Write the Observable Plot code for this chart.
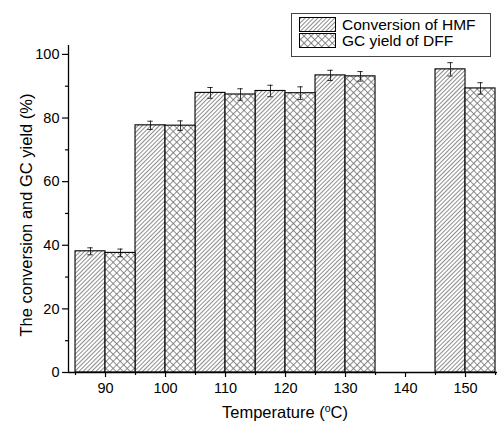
<!DOCTYPE html>
<html><head><meta charset="utf-8">
<script src="https://cdn.jsdelivr.net/npm/d3@7"></script>
<script src="https://cdn.jsdelivr.net/npm/@observablehq/plot@0.6"></script>
<style>html,body{margin:0;padding:0;background:#fff} svg{display:block}</style>
</head><body><div id="chart"></div>
<script>
const temperatures = [90, 100, 110, 120, 130, 150];
const conversionHMF = [38.1, 77.7, 87.9, 88.5, 93.4, 95.3];
const conversionErr = [1.1, 1.3, 1.7, 1.8, 1.6, 2.1];
const gcYieldDFF = [37.6, 77.6, 87.4, 87.8, 93.1, 89.3];
const gcYieldErr = [1.2, 1.5, 1.8, 2.0, 1.5, 1.8];
const seriesNames = ["Conversion of HMF", "GC yield of DFF"];
const xTicks = [90, 100, 110, 120, 130, 140, 150];
const xMinorTicks = [85, 95, 105, 115, 125, 135, 145, 155];
const yTicks = [0, 20, 40, 60, 80, 100];
const yMinorTicks = [10, 30, 50, 70, 90];
const xTitle = ["Temperature (", "o", "C)"];
const yTitle = "The conversion and GC yield (%)";

const halfBand = 5;
const bars = temperatures.flatMap((t, i) => [
  {series: seriesNames[0], x1: t - halfBand, x2: t, value: conversionHMF[i], err: conversionErr[i]},
  {series: seriesNames[1], x1: t, x2: t + halfBand, value: gcYieldDFF[i], err: gcYieldErr[i]}
]);
const mid = d => (d.x1 + d.x2) / 2;
const capHalf = 0.45;
const fills = {[seriesNames[0]]: "url(#hatchConv)", [seriesNames[1]]: "url(#hatchGC)"};

const svg = Plot.plot({
  width: 498,
  height: 423,
  marginLeft: 68,
  marginRight: 1,
  marginTop: 45,
  marginBottom: 51,
  style: {fontFamily: "'Liberation Sans', Arial, sans-serif", fontSize: "14.5px", color: "black", background: "white"},
  x: {domain: [83.83, 155.33]},
  y: {domain: [0, 102.8]},
  marks: [
    ...seriesNames.map(s => Plot.rectY(bars.filter(d => d.series === s), {
      x1: "x1", x2: "x2", y: "value", fill: fills[s], stroke: "black", strokeWidth: 1.1, inset: 0
    })),
    Plot.ruleX(bars, {x: mid, y1: d => d.value - d.err, y2: d => d.value + d.err, stroke: "black", strokeWidth: 0.8}),
    Plot.ruleY(bars, {y: d => d.value + d.err, x1: d => mid(d) - capHalf, x2: d => mid(d) + capHalf, stroke: "black", strokeWidth: 0.8}),
    Plot.ruleY(bars, {y: d => d.value - d.err, x1: d => mid(d) - capHalf, x2: d => mid(d) + capHalf, stroke: "black", strokeWidth: 0.8}),
    Plot.axisX(xTicks, {tickSize: 5, tickPadding: 5, label: null, strokeWidth: 1.2}),
    Plot.axisX(xMinorTicks, {tickSize: 3, text: null, label: null, strokeWidth: 1.2}),
    Plot.axisY(yTicks, {tickSize: 6, tickPadding: 3, label: null, strokeWidth: 1.2}),
    Plot.axisY(yMinorTicks, {tickSize: 3, text: null, label: null, strokeWidth: 1.2}),
    Plot.ruleY([0], {stroke: "black", strokeWidth: 1.3}),
    Plot.ruleX([83.83], {stroke: "black", strokeWidth: 1.3}),
    Plot.text([yTitle], {frameAnchor: "left", dx: -42, dy: 6, rotate: -90, textAnchor: "middle", fontSize: 16.5, fill: "black"})
  ]
});

const root = d3.select(svg);
const defs = root.insert("defs", ":first-child");
const p1 = defs.append("pattern").attr("id", "hatchConv").attr("patternUnits", "userSpaceOnUse")
  .attr("width", 3).attr("height", 3).attr("patternTransform", "rotate(45)");
p1.append("rect").attr("width", 3).attr("height", 3).attr("fill", "white");
p1.append("line").attr("x1", 0.5).attr("y1", 0).attr("x2", 0.5).attr("y2", 3).attr("stroke", "#707070").attr("stroke-width", 0.8);
const p2 = defs.append("pattern").attr("id", "hatchGC").attr("patternUnits", "userSpaceOnUse")
  .attr("width", 5).attr("height", 5).attr("patternTransform", "rotate(45)");
p2.append("rect").attr("width", 5).attr("height", 5).attr("fill", "white");
p2.append("line").attr("x1", 0.5).attr("y1", 0).attr("x2", 0.5).attr("y2", 5).attr("stroke", "#707070").attr("stroke-width", 0.8);
p2.append("line").attr("x1", 0).attr("y1", 0.5).attr("x2", 5).attr("y2", 0.5).attr("stroke", "#707070").attr("stroke-width", 0.8);

// x-axis title with superscript
const xt = root.append("text").attr("x", 285).attr("y", 418).attr("text-anchor", "middle")
  .attr("font-size", 16.5).attr("fill", "black");
xt.append("tspan").text(xTitle[0]);
xt.append("tspan").attr("font-size", 10.5).attr("dy", -6.5).text(xTitle[1]);
xt.append("tspan").attr("dy", 6.5).text(xTitle[2]);

// legend
const lg = root.append("g");
lg.append("rect").attr("x", 291.5).attr("y", 13.5).attr("width", 199).attr("height", 43)
  .attr("fill", "white").attr("stroke", "#444").attr("stroke-width", 1);
seriesNames.forEach((s, i) => {
  const y0 = 17 + i * 16;
  lg.append("rect").attr("x", 299.5).attr("y", y0 + 0.5).attr("width", 36).attr("height", 14)
    .attr("fill", fills[s]).attr("stroke", "black").attr("stroke-width", 1);
  lg.append("text").attr("x", 342).attr("y", y0 + 13).attr("text-anchor", "start")
    .attr("font-size", 15.5).attr("fill", "black").text(s);
});

document.getElementById("chart").appendChild(svg);
</script>
</body></html>
